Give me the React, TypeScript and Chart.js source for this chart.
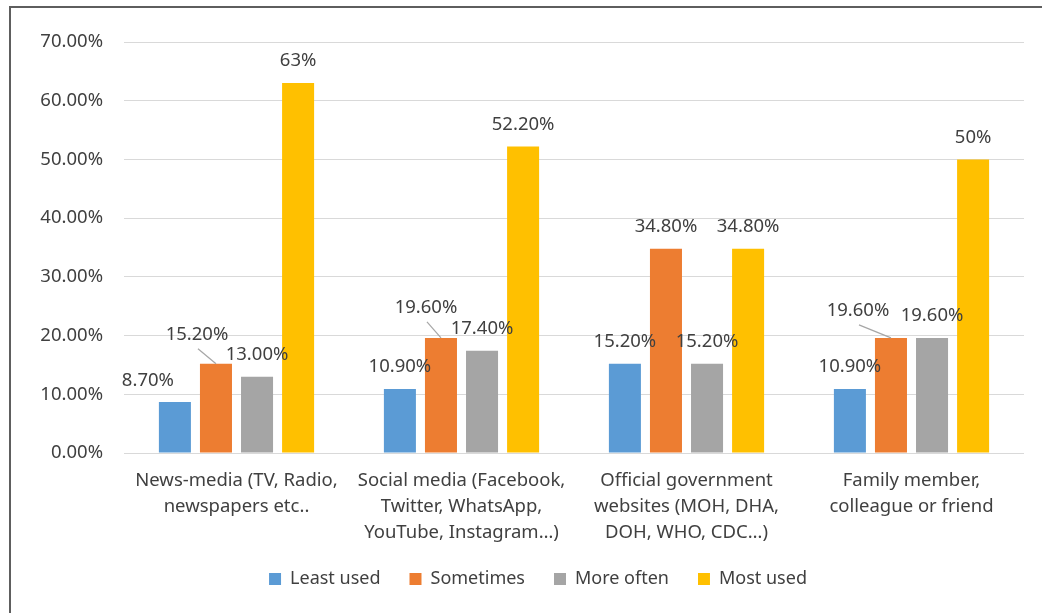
import { useEffect, useRef } from "react";
import { Chart, registerables } from "chart.js";

Chart.register(...registerables);

const categories: string[][] = [
  ["News-media (TV, Radio,", "newspapers etc.."],
  ["Social media (Facebook,", "Twitter, WhatsApp,", "YouTube, Instagram…)"],
  ["Official government", "websites (MOH, DHA,", "DOH, WHO, CDC…)"],
  ["Family member,", "colleague or friend"],
];

const seriesNames = ["Least used", "Sometimes", "More often", "Most used"];

const leastUsed = [8.7, 10.9, 15.2, 10.9];
const sometimes = [15.2, 19.6, 34.8, 19.6];
const moreOften = [13.0, 17.4, 15.2, 19.6];
const mostUsed = [63, 52.2, 34.8, 50];

const leastUsedLabels = ["8.70%", "10.90%", "15.20%", "10.90%"];
const sometimesLabels = ["15.20%", "19.60%", "34.80%", "19.60%"];
const moreOftenLabels = ["13.00%", "17.40%", "15.20%", "19.60%"];
const mostUsedLabels = ["63%", "52.20%", "34.80%", "50%"];

const yTickValues = [0, 10, 20, 30, 40, 50, 60, 70];

const COLORS = ["#5B9BD5", "#ED7D31", "#A5A5A5", "#FFC000"];
const FONT = "'Noto Sans', sans-serif";
const TEXT = "#404040";
const FS = 18.5;

// label nudges: key "dataset-index" -> [dx, dy, leader]
const NUDGES: Record<string, [number, number, boolean]> = {
  "0-0": [-27, 1, false],
  "1-0": [-19, -7, true],
  "1-1": [-15, -8, true],
  "1-3": [-33, -5, true],
};

const labelPlugin = {
  id: "barLabels",
  afterLayout(chart: any) {
    // nudge the legend block as in the reference
    const lg = chart.legend;
    if (lg) {
      lg.left += 26;
      lg.right += 26;
      lg.top -= 10;
      lg.bottom -= 10;
    }
  },
  afterDatasetsDraw(chart: any) {
    const ctx = chart.ctx;
    const allLabels = [leastUsedLabels, sometimesLabels, moreOftenLabels, mostUsedLabels];
    ctx.save();
    ctx.font = `${FS}px ${FONT}`;
    ctx.fillStyle = TEXT;
    ctx.textAlign = "center";
    ctx.textBaseline = "middle";
    chart.data.datasets.forEach((_ds: any, di: number) => {
      const meta = chart.getDatasetMeta(di);
      meta.data.forEach((bar: any, i: number) => {
        const n = NUDGES[`${di}-${i}`] || [0, 0, false];
        const tx = bar.x + n[0];
        const ty = bar.y - 22 + n[1];
        if (n[2]) {
          ctx.strokeStyle = "#A6A6A6";
          ctx.lineWidth = 1.2;
          ctx.beginPath();
          ctx.moveTo(tx + 1, ty + 14);
          ctx.lineTo(bar.x, bar.y);
          ctx.stroke();
        }
        ctx.fillText(allLabels[di][i], tx, ty);
      });
    });
    ctx.restore();
  },
};

export default function App() {
  const ref = useRef<HTMLCanvasElement>(null);
  useEffect(() => {
    if (!ref.current) return;
    const series = [leastUsed, sometimes, moreOften, mostUsed];
    const chart = new Chart(ref.current, {
      type: "bar",
      data: {
        labels: categories,
        datasets: series.map((d, i) => ({
          label: seriesNames[i],
          data: d,
          backgroundColor: COLORS[i],
          borderWidth: 0,
          barPercentage: 0.78,
          categoryPercentage: 0.73,
        })),
      },
      options: {
        animation: false,
        responsive: false,
        layout: { padding: { top: 42, right: 18, left: 0, bottom: 5 } },
        plugins: {
          legend: {
            position: "bottom",
            labels: {
              boxWidth: 12,
              boxHeight: 12,
              padding: 29,
              color: TEXT,
              font: { family: FONT, size: 18 },
            },
          },
          tooltip: { enabled: false },
        },
        scales: {
          x: {
            grid: { display: false, drawTicks: false },
            border: { display: false },
            ticks: {
              color: TEXT,
              font: { family: FONT, size: FS, lineHeight: 1.4 },
              padding: 15,
              maxRotation: 0,
              autoSkip: false,
            },
            afterFit: (s: any) => {
              s.height = 98;
            },
          },
          y: {
            min: 0,
            max: 70,
            afterBuildTicks: (s: any) => {
              s.ticks = yTickValues.map((v) => ({ value: v }));
            },
            grid: { color: "#D9D9D9", lineWidth: 1, drawTicks: false },
            border: { display: false },
            ticks: {
              color: TEXT,
              font: { family: FONT, size: FS },
              padding: 21,
              callback: (v: any) => `${Number(v).toFixed(2)}%`,
            },
            afterFit: (s: any) => {
              s.width = 124;
            },
          },
        },
      },
      plugins: [labelPlugin],
    });
    return () => chart.destroy();
  }, []);

  return (
    <div
      style={{
        position: "absolute",
        left: 0,
        top: 0,
        width: 1042,
        height: 613,
        overflow: "hidden",
        background: "#fff",
      }}
    >
      <div
        style={{
          position: "absolute",
          left: 9,
          top: 6,
          width: 1200,
          height: 800,
          border: "2px solid #5E5E5E",
          boxSizing: "border-box",
        }}
      />
      <canvas
        ref={ref}
        width={1042}
        height={613}
        style={{ position: "absolute", left: 0, top: 0 }}
      />
    </div>
  );
}
